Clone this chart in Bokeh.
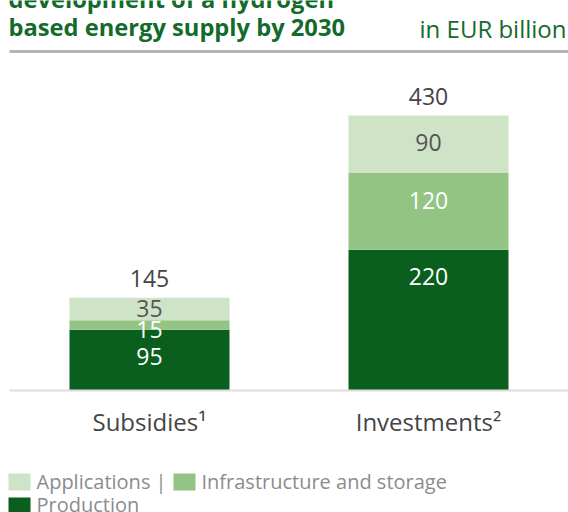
from bokeh.plotting import figure
from bokeh.models import Range1d, Label, ColumnDataSource
from bokeh.embed import file_html
from bokeh.resources import INLINE
from bokeh.core.properties import value

categories = ["Subsidies\u00b9", "Investments\u00b2"]
production = [95, 220]
infrastructure = [15, 120]
applications = [35, 90]
totals = [145, 430]
series_names = ["Applications", "Infrastructure and storage", "Production"]

W, H = 568, 512
# pixel mapping: index 0 -> px 149, index 1 -> px 428; value 0 -> py 390, 430 -> py 115
ppu_x = 279.0
ppu_y = 275.0 / 430.0
XS = -149 / ppu_x
XE = (W - 149) / ppu_x
YS = -(H - 390) / ppu_y
YE = 390 / ppu_y

def px(xp):
    return XS + xp / ppu_x

def py(yp):
    return YE - yp / ppu_y

def dy(pixels):
    return pixels / ppu_y

C_DARK = "#0a5f1e"
C_MID = "#93c483"
C_LIGHT = "#cfe3c7"
C_GREEN = "#136b2b"
FONT = "Open Sans"

p = figure(width=W, height=H, x_range=Range1d(XS, XE), y_range=Range1d(YS, YE),
           output_backend="svg", toolbar_location=None, min_border=0)
p.axis.visible = False
p.grid.visible = False
p.outline_line_color = None
p.background_fill_color = "white"
p.border_fill_color = "white"

xs = list(range(len(categories)))
src = ColumnDataSource(dict(x=xs, prod=production, infra=infrastructure, appl=applications))
bw = 160 / ppu_x
p.vbar_stack(["prod", "infra", "appl"], x="x", width=bw, color=[C_DARK, C_MID, C_LIGHT],
             line_color=None, source=src)

# segment labels: placed below each segment's top, at most ~27px down;
# labels of very thin segments are nudged down a little
cap = dy(27)
def label_pos(bottoms, vals):
    out = []
    for b, v in zip(bottoms, vals):
        y = b + v - min(v / 2, cap)
        if v < dy(15):
            y -= dy(5)
        out.append(y)
    return out

zeros = [0] * len(xs)
b_infra = production
b_appl = [a + b for a, b in zip(production, infrastructure)]
y_prod = label_pos(zeros, production)
y_infra = label_pos(b_infra, infrastructure)
y_appl = label_pos(b_appl, applications)

lab_size = "23px"
common = dict(text_align="center", text_baseline="middle", text_font=value(FONT),
              text_font_size=lab_size)
p.text(x=xs, y=y_prod, text=[str(v) for v in production], text_color="white", **common)
p.text(x=xs, y=y_infra, text=[str(v) for v in infrastructure], text_color="white", **common)
p.text(x=xs, y=y_appl, text=[str(v) for v in applications], text_color="#555555", **common)
p.text(x=xs, y=[t + dy(19) for t in totals], text=[str(v) for v in totals],
       text_color="#444444", **common)
# category labels
p.text(x=xs, y=[-dy(31)] * len(xs), text=categories, text_align="center", text_baseline="middle",
       text_color="#444444", text_font=value(FONT), text_font_size="24px")

# rules
p.segment(x0=[px(9)], y0=[py(51)], x1=[px(568)], y1=[py(51)], line_color="#b4b4b4", line_width=3)
p.segment(x0=[px(9)], y0=[py(390)], x1=[px(568)], y1=[py(390)], line_color="#dddddd", line_width=2)

# titles
for txt, yc in [("development of a hydrogen", -1.5), ("based energy supply by 2030", 26)]:
    p.add_layout(Label(x=px(8), y=py(yc), text=txt, text_font=FONT, text_font_size="23.7px",
                       text_font_style="bold", text_color=C_GREEN, text_baseline="middle"))
p.add_layout(Label(x=px(566), y=py(27.5), text="in EUR billion", text_font=FONT, text_font_size="24px",
                   text_color=C_GREEN, text_align="right", text_baseline="middle"))

# legend
leg_color = "#8c8c8c"
p.quad(left=[px(8), px(173), px(8)], right=[px(30), px(195), px(30)],
       top=[py(473), py(473), py(497)], bottom=[py(490), py(490), py(513)],
       color=[C_LIGHT, C_MID, C_DARK], line_color=None)
p.add_layout(Label(x=px(36), y=py(481), text=series_names[0] + " |", text_font=FONT,
                   text_font_size="20px", text_color=leg_color, text_baseline="middle"))
p.add_layout(Label(x=px(201), y=py(481), text=series_names[1], text_font=FONT,
                   text_font_size="20px", text_color=leg_color, text_baseline="middle"))
p.add_layout(Label(x=px(36), y=py(504), text=series_names[2], text_font=FONT,
                   text_font_size="20px", text_color=leg_color, text_baseline="middle"))

open("out.html", "w").write(file_html(p, INLINE))
